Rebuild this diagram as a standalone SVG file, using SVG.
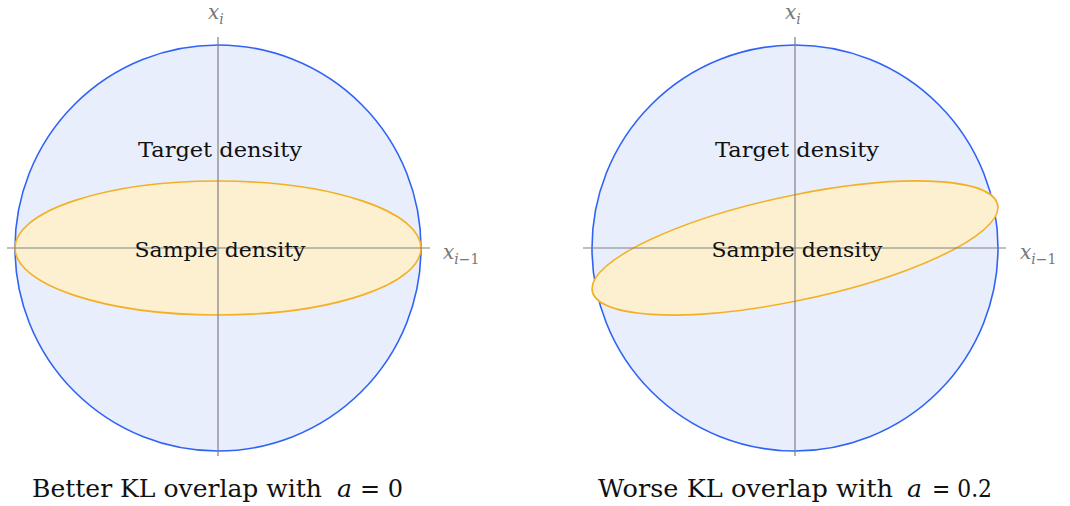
<svg xmlns="http://www.w3.org/2000/svg" width="1070" height="506" viewBox="0 0 1070 506">
<style>
.target{fill:#e8eefc;stroke:#2f63f5;stroke-width:1.6}
.sample{fill:#fcf0d1;stroke:#f4b023;stroke-width:1.6}
.axis{stroke:#808080;stroke-width:1.2;fill:none}
.lbl{fill:#111;text-anchor:middle;font-size:21px}
.ax{fill:#777;font-style:italic}
.cap{fill:#111;font-size:25px}
.it{font-style:italic}
text{font-family:'DejaVu Serif','Liberation Serif',serif}
</style>
<rect width="1070" height="506" fill="#fff"/>
<g id="left-panel">
  <g id="left-target"><circle class="target" cx="218" cy="248" r="203"/></g>
  <g id="left-sample"><ellipse class="sample" cx="218" cy="248" rx="203" ry="67"/></g>
  <g id="left-axes">
    <line class="axis" x1="218" y1="37" x2="218" y2="456"/>
    <line class="axis" x1="7" y1="248" x2="430" y2="248"/>
  </g>
  <text class="ax" x="208" y="19" font-size="20">x<tspan font-size="14" dy="5">i</tspan></text>
  <text class="ax" x="443" y="259" font-size="20">x<tspan font-size="14" dy="5">i</tspan><tspan font-size="14" font-style="normal">−1</tspan></text>
  <text class="lbl" x="220" y="157" textLength="164" lengthAdjust="spacingAndGlyphs">Target density</text>
  <text class="lbl" x="220" y="257" textLength="171" lengthAdjust="spacingAndGlyphs">Sample density</text>
  <text class="cap" x="32" y="497" textLength="290" lengthAdjust="spacingAndGlyphs">Better KL overlap with</text>
  <text class="cap it" x="337" y="497" textLength="15" lengthAdjust="spacingAndGlyphs">a</text>
  <text class="cap" x="360" y="497" textLength="43" lengthAdjust="spacingAndGlyphs">= 0</text>
</g>
<g id="right-panel">
  <g id="right-target"><circle class="target" cx="795" cy="248" r="203"/></g>
  <g id="right-sample"><ellipse class="sample" cx="0" cy="0" rx="203" ry="53.3" transform="matrix(1,-0.2,0,1,795,248)"/></g>
  <g id="right-axes">
    <line class="axis" x1="795" y1="37" x2="795" y2="456"/>
    <line class="axis" x1="583" y1="248" x2="1006" y2="248"/>
  </g>
  <text class="ax" x="785" y="19" font-size="20">x<tspan font-size="14" dy="5">i</tspan></text>
  <text class="ax" x="1020" y="259" font-size="20">x<tspan font-size="14" dy="5">i</tspan><tspan font-size="14" font-style="normal">−1</tspan></text>
  <text class="lbl" x="797" y="157" textLength="164" lengthAdjust="spacingAndGlyphs">Target density</text>
  <text class="lbl" x="797" y="257" textLength="171" lengthAdjust="spacingAndGlyphs">Sample density</text>
  <text class="cap" x="598" y="497" textLength="295" lengthAdjust="spacingAndGlyphs">Worse KL overlap with</text>
  <text class="cap it" x="907" y="497" textLength="15" lengthAdjust="spacingAndGlyphs">a</text>
  <text class="cap" x="932" y="497" textLength="60" lengthAdjust="spacingAndGlyphs">= 0.2</text>
</g>
</svg>
